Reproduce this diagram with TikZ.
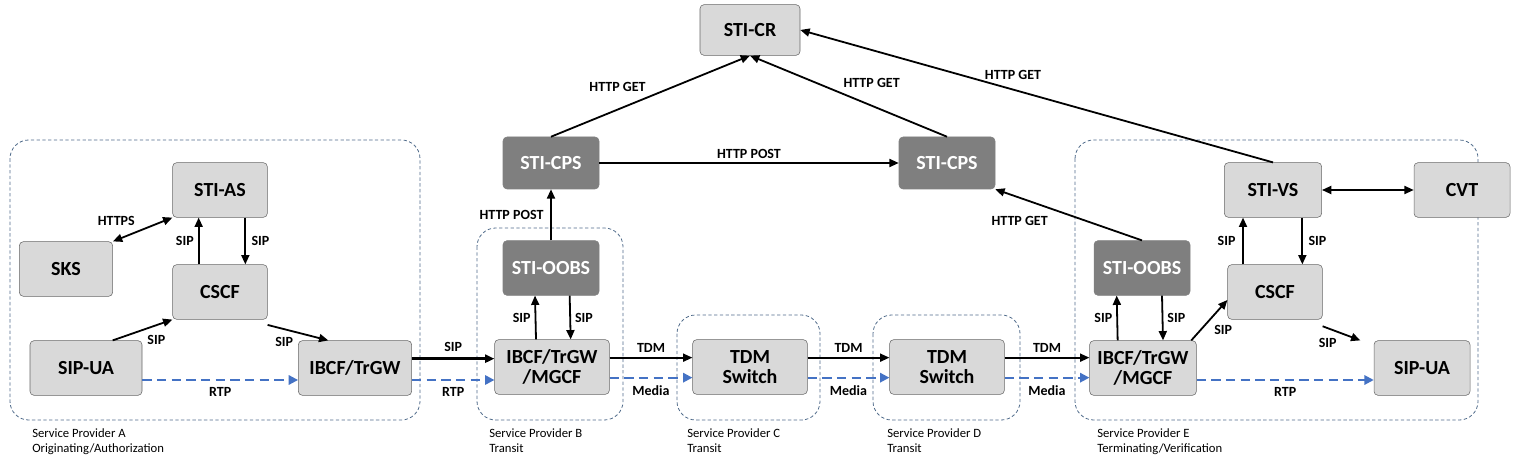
\documentclass[tikz,border=0pt]{standalone}
\usepackage{fontspec}
\setmainfont{Carlito}
\usetikzlibrary{arrows.meta}
\definecolor{lb}{HTML}{D9D9D9}
\definecolor{db}{HTML}{7F7F7F}
\definecolor{bl}{HTML}{4472C4}
\definecolor{bd}{HTML}{4F6A8A}
\begin{document}
\begin{tikzpicture}[x=0.75pt,y=-0.75pt,
  box/.style={draw=gray!80!black,fill=lb,rounded corners=3pt,minimum width=71pt,minimum height=41pt,align=center,font=\fontsize{15}{15}\selectfont\bfseries,inner sep=1pt},
  dbox/.style={box,fill=db,draw=db,text=white},
  sp/.style={draw=bd,dash pattern=on 2.5pt off 1.8pt,rounded corners=14pt,line width=0.6pt},
  sl/.style={font=\fontsize{9.5}{11.5}\selectfont,align=left,anchor=north west,inner sep=0pt},
  lab/.style={font=\fontsize{10.5}{10.5}\selectfont\bfseries,inner sep=1pt},
  ar/.style={-{Triangle[length=7pt,width=6pt]},line width=1.35pt},
  dar/.style={{Triangle[length=7pt,width=6pt]}-{Triangle[length=7pt,width=6pt]},line width=1.35pt},
  rtp/.style={-{Triangle[length=7pt,width=7pt]},bl,dash pattern=on 7pt off 4pt,line width=1.5pt}]
\useasboundingbox (0,0) rectangle (1519,466);
% provider boxes
\draw[sp] (10,140) rectangle (420,420);
\draw[sp] (477,228) rectangle (623,420);
\draw[sp] (677,315) rectangle (820,420);
\draw[sp] (873,315) rectangle (1020,420);
\draw[sp] (1075,140) rectangle (1478,420);
\node[sl] (la) at (32,428) {Service Provider A\\Originating/Authorization};
\node[sl] (lb) at (489,428) {Service Provider B\\Transit};
\node[sl] (lc) at (687,428) {Service Provider C\\Transit};
\node[sl] (ld) at (887,428) {Service Provider D\\Transit};
\node[sl] (le) at (1097,428) {Service Provider E\\Terminating/Verification};
% nodes
\node[box,minimum width=75pt,minimum height=38pt] (cr) at (750,30) {STI-CR};
\node[dbox,minimum width=72pt,minimum height=39pt] (cpsb) at (551,163) {STI-CPS};
\node[dbox,minimum width=72pt,minimum height=39pt] (cpsm) at (947,163) {STI-CPS};
\node[box] (as) at (220,190) {STI-AS};
\node[box,minimum width=70pt] (sks) at (66,269) {SKS};
\node[box] (cscfa) at (220,292) {CSCF};
\node[box,minimum width=84pt] (uaa) at (86,368) {SIP-UA};
\node[box,minimum width=85pt] (ibcfa) at (355,368) {IBCF/TrGW};
\node[dbox,minimum width=72pt] (oobsb) at (551,268) {STI-OOBS};
\node[box,minimum width=86pt] (ibcfb) at (552,367) {IBCF/TrGW\\/MGCF};
\node[box,minimum width=86pt] (tdmc) at (750,367) {TDM\\Switch};
\node[box,minimum width=86pt] (tdmd) at (947,367) {TDM\\Switch};
\node[dbox,minimum width=72pt] (oobse) at (1142,268) {STI-OOBS};
\node[box,minimum width=80pt] (ibcfe) at (1143,368) {IBCF/TrGW\\/MGCF};
\node[box,minimum width=73pt] (vs) at (1273,190) {STI-VS};
\node[box,minimum width=72pt] (cvt) at (1462,190) {CVT};
\node[box] (cscfe) at (1275,292) {CSCF};
\node[box,minimum width=72pt] (uae) at (1422,368) {SIP-UA};
% top connectors
\draw[ar] (cpsb.north) -- (cr.south) node[lab,pos=0.5,above left=2pt] (l1) {HTTP GET};
\draw[ar] (cpsm.north) -- (cr.south) node[lab,pos=0.55,above right=2pt] (l2) {HTTP GET};
\draw[ar] (vs.north) -- (cr.east) node[lab,pos=0.55,above=6pt] (l3) {HTTP GET};
\draw[ar] (cpsb.east) -- (cpsm.west) node[lab,midway,above=2pt] (l4) {HTTP POST};
\draw[ar] (oobsb.north) -- (cpsb.south) node[lab,midway,left=4pt] (l5) {HTTP POST};
\draw[ar] (oobse.north) -- (cpsm.south east) node[lab,pos=0.6,below left=3pt] (l6) {HTTP GET};
\draw[dar] (vs.east) -- (cvt.west);
% SP A
\draw[dar] (sks.north east) -- (as.south west) node[lab,pos=0.45,above left=2pt] (l7) {HTTPS};
\draw[ar] ([xshift=-16pt]cscfa.north) -- ([xshift=-16pt]as.south) node[lab,midway,left=2pt] (l8) {SIP};
\draw[ar] ([xshift=19pt]as.south) -- ([xshift=19pt]cscfa.north) node[lab,midway,right=3pt] (l9) {SIP};
\draw[ar] ([xshift=20pt]uaa.north) -- (cscfa.south west) node[lab,midway,below right=2pt] (l10) {SIP};
\draw[ar] ([yshift=-4pt]cscfa.south east) -- ([xshift=-20pt]ibcfa.north) node[lab,midway,below left=2pt] (l11) {SIP};
\draw[rtp] ([yshift=-9pt]uaa.east) -- ([yshift=-9pt]ibcfa.west) node[lab,black,midway,below=4pt] (l12) {RTP};
\draw[ar,line width=2.2pt] ([yshift=7pt]ibcfa.east) -- ([yshift=7pt]ibcfa.east -| ibcfb.west) node[lab,midway,above=3pt] (l13) {SIP};
\draw[rtp] ([yshift=-9pt]ibcfa.east) -- ([yshift=-9pt]ibcfa.east -| ibcfb.west) node[lab,midway,black,below=4pt] (l14) {RTP};
% SP B
\draw[ar] ([xshift=-12pt]ibcfb.north) -- ([xshift=-12pt]oobsb.south) node[lab,midway,left=2pt] (l15) {SIP};
\draw[ar] ([xshift=14pt]oobsb.south) -- ([xshift=14pt]ibcfb.north) node[lab,midway,right=2pt] (l16) {SIP};
\draw[ar] ([yshift=7pt]ibcfb.east) -- ([yshift=7pt]tdmc.west) node[lab,midway,above=2pt] (l17) {TDM};
\draw[rtp] ([yshift=-8pt]ibcfb.east) -- ([yshift=-8pt]tdmc.west) node[lab,midway,black,below=4pt] (l18) {Media};
\draw[ar] ([yshift=7pt]tdmc.east) -- ([yshift=7pt]tdmd.west) node[lab,midway,above=2pt] (l19) {TDM};
\draw[rtp] ([yshift=-8pt]tdmc.east) -- ([yshift=-8pt]tdmd.west) node[lab,midway,black,below=4pt] (l20) {Media};
\draw[ar] ([yshift=7pt]tdmd.east) -- ([yshift=7pt]tdmd.east -| ibcfe.west) node[lab,midway,above=2pt] (l21) {TDM};
\draw[rtp] ([yshift=-8pt]tdmd.east) -- ([yshift=-8pt]tdmd.east -| ibcfe.west) node[lab,midway,black,below=4pt] (l22) {Media};
% SP E
\draw[ar] ([xshift=-19pt]ibcfe.north) -- ([xshift=-19pt]oobse.south) node[lab,midway,left=2pt] (l23) {SIP};
\draw[ar] ([xshift=15pt]oobse.south) -- ([xshift=15pt]ibcfe.north) node[lab,midway,right=2pt] (l24) {SIP};
\draw[ar] ([xshift=-4pt]ibcfe.north east) -- ([yshift=-6pt]cscfe.west) node[lab,midway,below right=2pt] (l25) {SIP};
\draw[ar] ([xshift=-24pt]cscfe.north) -- ([xshift=-24pt]cscfe.north |- vs.south) node[lab,midway,left=4pt] (l26) {SIP};
\draw[ar] ([xshift=22pt]vs.south) -- ([xshift=22pt]vs.south |- cscfe.north) node[lab,midway,right=3pt] (l27) {SIP};
\draw[ar] ([yshift=-5pt]cscfe.south east) -- ([xshift=-10pt]uae.north west) node[lab,midway,below left=2pt] (l28) {SIP};
\draw[rtp] ([yshift=-9pt]ibcfe.east) -- ([yshift=-9pt]uae.west) node[lab,black,midway,below=4pt] (l29) {RTP};
\end{tikzpicture}
\end{document}
